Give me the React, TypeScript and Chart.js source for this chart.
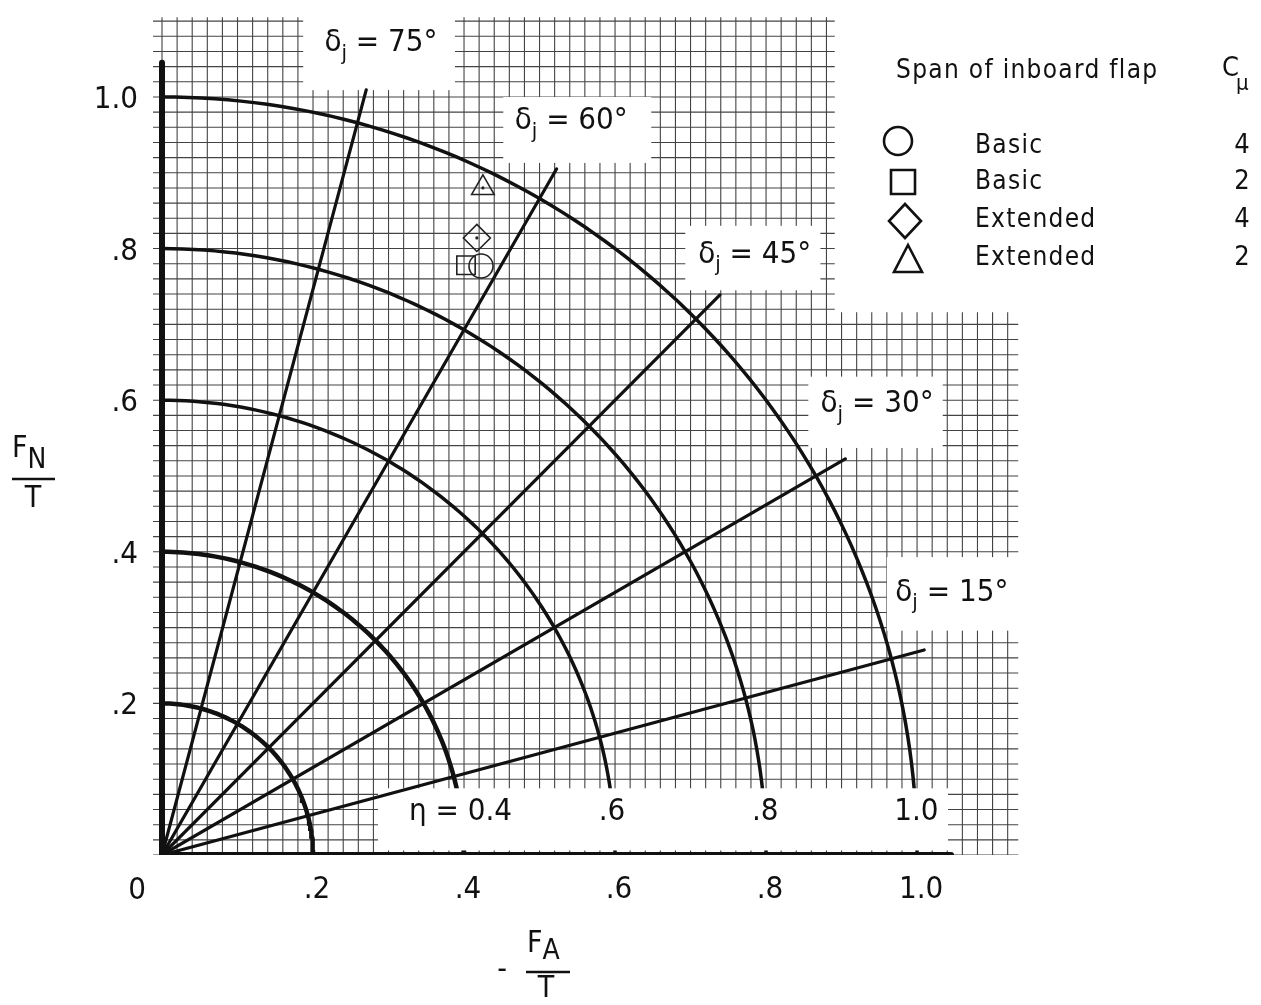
import React, { useEffect, useRef } from "react";
import { Chart, registerables } from "chart.js";

Chart.register(...registerables);

// ---------- data ----------
const etaRadii = [0.2, 0.4, 0.6, 0.8, 1.0];
const etaLabels = ["", "η = 0.4", ".6", ".8", "1.0"];
const etaLabelX = [0, 0.4636, 0.596, 0.799, 0.999];
const etaLabelAlign: CanvasTextAlign[] = ["center", "right", "center", "center", "center"];
const jetAngles = [15, 30, 45, 60, 75];
const jetLabelPos = [
  { x: 1.046, y: 0.346 },
  { x: 0.947, y: 0.595 },
  { x: 0.785, y: 0.792 },
  { x: 0.542, y: 0.968 },
  { x: 0.29, y: 1.071 },
];
const rayLength = 1.045;
const axisLength = 1.045;

const xTickValues = [0.2, 0.4, 0.6, 0.8, 1.0];
const xTickLabels = [".2", ".4", ".6", ".8", "1.0"];
const yTickValues = [0.2, 0.4, 0.6, 0.8, 1.0];
const yTickLabels = [".2", ".4", ".6", ".8", "1.0"];

const basicC4 = [{ x: 0.4225, y: 0.777 }];
const basicC2 = [{ x: 0.4026, y: 0.778 }];
const extendedC4 = [{ x: 0.417, y: 0.814 }];
const extendedC2 = [{ x: 0.425, y: 0.88 }];

const legendSpan = ["Basic", "Basic", "Extended", "Extended"];
const legendCmu = ["4", "2", "4", "2"];
const legendStyles = ["circle", "rect", "rectRot", "triangle"];

// ---------- layout constants ----------
const W = 1261;
const H = 1005;
const X_MIN = -0.0159;
const X_MAX = 1.135;
const Y_MIN = 0;
const Y_MAX = 1.12;
const GRID_STEP = 0.02;
const GRID_LEFT = -0.012;
const GRID_RIGHT = 1.134;
const GRID_TOP = 1.105;
const GRID_NOTCH_X = 0.891;
const GRID_NOTCH_TOP = 0.716;
const whiteBoxes = [
  [0.187, 0.388, 1.009, 1.13],
  [0.452, 0.648, 0.913, 1.0],
  [0.693, 0.872, 0.745, 0.83],
  [0.856, 1.034, 0.537, 0.631],
  [0.96, 1.15, 0.296, 0.393],
  [0.286, 1.041, 0.006, 0.088],
];

const COND = '"DejaVu Sans Condensed", "Liberation Sans Narrow", "DejaVu Sans", sans-serif';
const INK = "#111";

function arcPoints(r: number) {
  const pts: { x: number; y: number }[] = [];
  for (let a = 0; a <= 90; a += 1) {
    const t = (a * Math.PI) / 180;
    pts.push({ x: r * Math.cos(t), y: r * Math.sin(t) });
  }
  return pts;
}

function rayPoints(deg: number) {
  const t = (deg * Math.PI) / 180;
  return [
    { x: 0, y: 0 },
    { x: rayLength * Math.cos(t), y: rayLength * Math.sin(t) },
  ];
}

function drawParts(
  ctx: CanvasRenderingContext2D,
  cx: number,
  cy: number,
  parts: { t: string; f: string; dy: number }[],
  align: "center" | "right" | "left" = "center"
) {
  ctx.save();
  ctx.textBaseline = "middle";
  ctx.textAlign = "left";
  let total = 0;
  const widths = parts.map((p) => {
    ctx.font = p.f;
    const w = ctx.measureText(p.t).width;
    total += w;
    return w;
  });
  let x = align === "center" ? cx - total / 2 : align === "right" ? cx - total : cx;
  parts.forEach((p, i) => {
    ctx.font = p.f;
    ctx.fillText(p.t, x, cy + p.dy);
    x += widths[i];
  });
  ctx.restore();
}

function drawSymbol(ctx: CanvasRenderingContext2D, style: string, x: number, y: number) {
  ctx.beginPath();
  if (style === "circle") {
    ctx.arc(x, y, 14, 0, Math.PI * 2);
  } else if (style === "rect") {
    ctx.rect(x - 12, y - 12, 24, 24);
  } else if (style === "rectRot") {
    ctx.moveTo(x, y - 17);
    ctx.lineTo(x + 16, y);
    ctx.lineTo(x, y + 17);
    ctx.lineTo(x - 16, y);
    ctx.closePath();
  } else {
    ctx.moveTo(x, y - 14);
    ctx.lineTo(x + 14, y + 13);
    ctx.lineTo(x - 14, y + 13);
    ctx.closePath();
  }
  ctx.stroke();
}

let boxesDrawn = false;

function drawBoxes(chart: any) {
  const { ctx } = chart;
  const xs = chart.scales.x;
  const ys = chart.scales.y;
  const X = (v: number) => xs.getPixelForValue(v);
  const Y = (v: number) => ys.getPixelForValue(v);
  ctx.save();
  ctx.fillStyle = "#fff";
  whiteBoxes.forEach(([x0, x1, y0, y1]) => {
    ctx.fillRect(X(x0), Y(y1), X(x1) - X(x0), Y(y0) - Y(y1));
  });
  ctx.restore();
}

const paperPlugin = {
  id: "paper",
  beforeDatasetsDraw(chart: any) {
    boxesDrawn = false;
    const { ctx } = chart;
    const xs = chart.scales.x;
    const ys = chart.scales.y;
    const X = (v: number) => xs.getPixelForValue(v);
    const Y = (v: number) => ys.getPixelForValue(v);
    ctx.save();
    ctx.beginPath();
    ctx.moveTo(X(GRID_LEFT), Y(0));
    ctx.lineTo(X(GRID_LEFT), Y(GRID_TOP));
    ctx.lineTo(X(GRID_NOTCH_X), Y(GRID_TOP));
    ctx.lineTo(X(GRID_NOTCH_X), Y(GRID_NOTCH_TOP));
    ctx.lineTo(X(GRID_RIGHT), Y(GRID_NOTCH_TOP));
    ctx.lineTo(X(GRID_RIGHT), Y(0));
    ctx.closePath();
    ctx.clip();
    ctx.strokeStyle = "rgba(20,20,20,0.8)";
    ctx.lineWidth = 1.1;
    ctx.beginPath();
    for (let i = 0; i * GRID_STEP <= GRID_RIGHT + 1e-9; i++) {
      const px = X(i * GRID_STEP);
      ctx.moveTo(px, Y(0));
      ctx.lineTo(px, Y(GRID_TOP + 0.05));
    }
    for (let j = 0; j * GRID_STEP <= GRID_TOP + 1e-9; j++) {
      const py = Y(j * GRID_STEP);
      ctx.moveTo(X(GRID_LEFT), py);
      ctx.lineTo(X(GRID_RIGHT + 0.05), py);
    }
    ctx.stroke();
    ctx.restore();
  },
  beforeDatasetDraw(chart: any, args: any) {
    const ds = chart.data.datasets[args.index];
    if (!boxesDrawn && (ds.order ?? 0) <= 2) {
      drawBoxes(chart);
      boxesDrawn = true;
    }
  },
  afterDatasetsDraw(chart: any) {
    if (!boxesDrawn) {
      drawBoxes(chart);
      boxesDrawn = true;
    }
    const { ctx } = chart;
    const xs = chart.scales.x;
    const ys = chart.scales.y;
    const X = (v: number) => xs.getPixelForValue(v);
    const Y = (v: number) => ys.getPixelForValue(v);
    ctx.save();
    ctx.fillStyle = INK;
    ctx.strokeStyle = INK;

    // jet angle labels
    jetAngles.forEach((deg, i) => {
      const p = jetLabelPos[i];
      drawParts(ctx, X(p.x), Y(p.y), [
        { t: "δ", f: `31px ${COND}`, dy: 0 },
        { t: "j", f: `22px ${COND}`, dy: 11 },
        { t: ` = ${deg}°`, f: `31px ${COND}`, dy: 0 },
      ]);
    });

    // eta labels
    etaRadii.forEach((r, i) => {
      if (!etaLabels[i]) return;
      ctx.font = `31px ${COND}`;
      ctx.textAlign = etaLabelAlign[i];
      ctx.textBaseline = "middle";
      ctx.fillText(etaLabels[i], X(etaLabelX[i]), Y(0.057));
    });

    // corner zero
    ctx.font = `31px ${COND}`;
    ctx.textAlign = "center";
    ctx.textBaseline = "middle";
    ctx.fillText("0", X(-0.033), Y(0) + 36);

    // y axis title F_N / T
    drawParts(ctx, 12, 449, [
      { t: "F", f: `30px ${COND}`, dy: 0 },
      { t: "N", f: `28px ${COND}`, dy: 12 },
    ], "left");
    ctx.lineWidth = 2.5;
    ctx.beginPath();
    ctx.moveTo(12, 479);
    ctx.lineTo(55, 479);
    ctx.stroke();
    drawParts(ctx, 33, 499, [{ t: "T", f: `30px ${COND}`, dy: 0 }]);

    // x axis title - F_A / T
    drawParts(ctx, 502, 970, [{ t: "-", f: `30px ${COND}`, dy: 0 }]);
    drawParts(ctx, 527, 944, [
      { t: "F", f: `30px ${COND}`, dy: 0 },
      { t: "A", f: `28px ${COND}`, dy: 8 },
    ], "left");
    ctx.beginPath();
    ctx.moveTo(526, 972);
    ctx.lineTo(570, 972);
    ctx.stroke();
    drawParts(ctx, 546, 989, [{ t: "T", f: `30px ${COND}`, dy: 0 }]);

    // legend
    ctx.textAlign = "left";
    ctx.textBaseline = "alphabetic";
    (ctx as any).letterSpacing = "1.3px";
    ctx.font = `26px ${COND}`;
    ctx.fillText("Span of inboard flap", 896, 78);
    (ctx as any).letterSpacing = "0px";
    ctx.font = `27px ${COND}`;
    ctx.fillText("C", 1222, 76);
    ctx.font = `22px ${COND}`;
    ctx.fillText("μ", 1236, 90);
    const rowBase = [153, 189, 227, 265];
    const symPos = [
      [898, 141],
      [903, 182],
      [905, 221],
      [908, 259],
    ];
    ctx.lineWidth = 2.6;
    legendSpan.forEach((s, i) => {
      drawSymbol(ctx, legendStyles[i], symPos[i][0], symPos[i][1]);
      (ctx as any).letterSpacing = "1.3px";
      ctx.font = `26px ${COND}`;
      ctx.textAlign = "left";
      ctx.fillText(s, 975, rowBase[i]);
      (ctx as any).letterSpacing = "0px";
      ctx.font = `27px ${COND}`;
      ctx.textAlign = "center";
      ctx.fillText(legendCmu[i], 1242, rowBase[i]);
    });
    ctx.restore();
  },
};

export default function App() {
  const ref = useRef<HTMLCanvasElement | null>(null);
  useEffect(() => {
    if (!ref.current) return;
    const lineDs = (data: any[], width: number, order: number) => ({
      type: "line" as const,
      data,
      order,
      showLine: true,
      borderColor: INK,
      borderWidth: width,
      pointRadius: 0,
      fill: false,
      tension: 0,
      borderCapStyle: "round" as const,
    });
    const markerDs = (data: any[], style: string, r: number) => ({
      type: "scatter" as const,
      data,
      order: 1,
      pointStyle: style,
      pointRadius: r,
      pointBorderColor: "#222",
      pointBackgroundColor: "rgba(0,0,0,0)",
      pointBorderWidth: 1.6,
      showLine: false,
    });
    const dotDs = (data: any[]) => ({
      type: "scatter" as const,
      data,
      order: 1,
      pointStyle: "circle",
      pointRadius: 1.6,
      pointBorderWidth: 0,
      pointBackgroundColor: "#222",
      showLine: false,
    });
    const datasets: any[] = [
      markerDs(basicC4, "circle", 12),
      markerDs(basicC2, "rect", 13),
      markerDs(extendedC4, "rectRot", 13.5),
      markerDs(extendedC2, "triangle", 13),
      dotDs(extendedC4),
      dotDs(extendedC2),
      lineDs([{ x: 0, y: 0 }, { x: 0, y: axisLength }], 6, 2),
      lineDs([{ x: 0, y: 0 }, { x: axisLength, y: 0 }], 6, 2),
      ...etaRadii.map((r) => lineDs(arcPoints(r), r <= 0.4 ? 4.5 : 3.5, 3)),
      ...jetAngles.map((a) => lineDs(rayPoints(a), 3.2, 2)),
    ];
    const chart = new Chart(ref.current, {
      type: "scatter",
      data: { datasets },
      options: {
        animation: false,
        responsive: false,
        layout: { autoPadding: false, padding: { left: 0, right: W - 1019, top: 6, bottom: 0 } },
        plugins: { legend: { display: false }, tooltip: { enabled: false } },
        scales: {
          x: {
            type: "linear",
            min: X_MIN,
            max: X_MAX,
            grid: { display: false, drawTicks: false },
            border: { display: false },
            afterBuildTicks: (s: any) => {
              s.ticks = xTickValues.map((v) => ({ value: v }));
            },
            afterFit: (s: any) => {
              s.height = H - 855;
              s.paddingLeft = 0;
              s.paddingRight = 0;
            },
            ticks: {
              autoSkip: false,
              maxRotation: 0,
              padding: 16,
              labelOffset: 4,
              color: INK,
              font: { family: COND, size: 31 },
              callback: (_v: any, i: number) => xTickLabels[i],
            },
          },
          y: {
            type: "linear",
            min: Y_MIN,
            max: Y_MAX,
            grid: { display: false, drawTicks: false },
            border: { display: false },
            afterBuildTicks: (s: any) => {
              s.ticks = yTickValues.map((v) => ({ value: v }));
            },
            afterFit: (s: any) => {
              s.width = 150;
              s.paddingTop = 0;
              s.paddingBottom = 0;
            },
            ticks: {
              autoSkip: false,
              padding: 12,
              labelOffset: 3,
              color: INK,
              font: { family: COND, size: 31 },
              callback: (_v: any, i: number) => yTickLabels[i],
            },
          },
        },
      },
      plugins: [paperPlugin],
    });
    return () => chart.destroy();
  }, []);
  return (
    <div style={{ position: "absolute", left: 0, top: 0, width: W, height: H, background: "#fff" }}>
      <canvas ref={ref} width={W} height={H} style={{ display: "block" }} />
    </div>
  );
}
